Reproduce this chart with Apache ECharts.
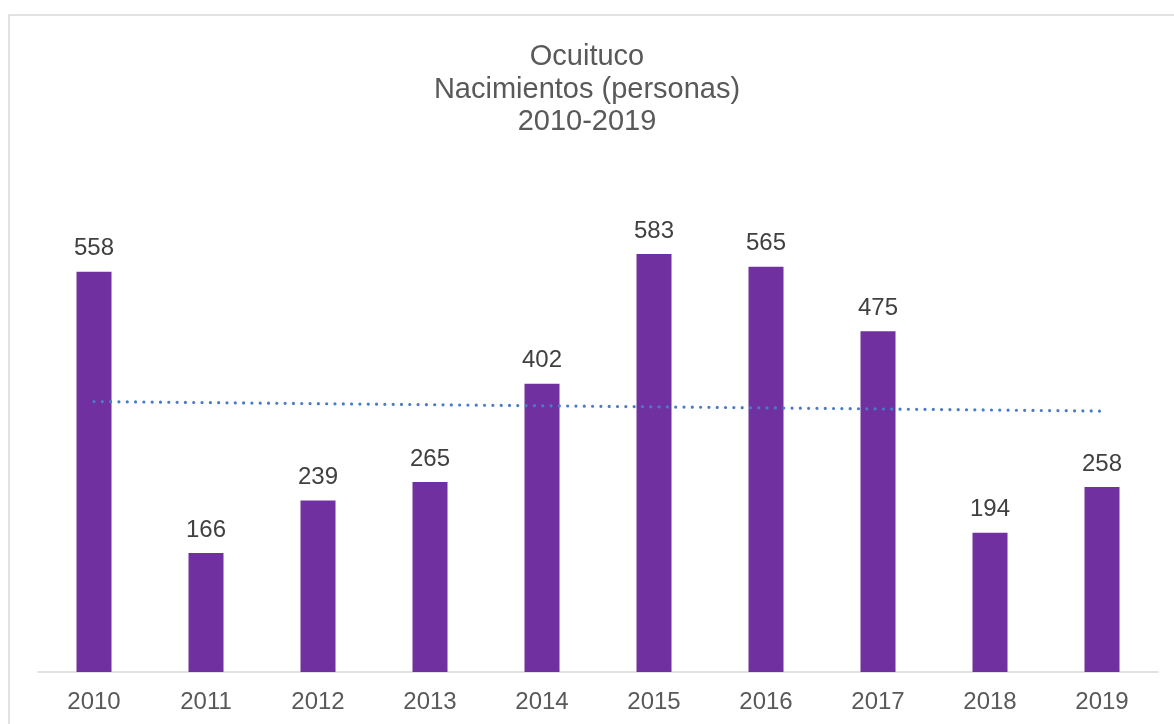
<!DOCTYPE html>
<html>
<head>
<meta charset="utf-8">
<script src="https://cdn.jsdelivr.net/npm/echarts@6/dist/echarts.min.js"></script>
<style>
html,body{margin:0;padding:0;background:#fff;}
#chart{width:1174px;height:724px;}
</style>
</head>
<body>
<div id="chart"></div>
<script>
const categories = ['2010','2011','2012','2013','2014','2015','2016','2017','2018','2019'];
const births = [558, 166, 239, 265, 402, 583, 565, 475, 194, 258];
const titleLines = ['Ocuituco', 'Nacimientos (personas)', '2010-2019'];

// Linear trend line (least squares) computed from the series values
const n = births.length;
const xMean = (n - 1) / 2;
const yMean = births.reduce((a, b) => a + b, 0) / n;
let sxy = 0, sxx = 0;
births.forEach((y, i) => { sxy += (i - xMean) * (y - yMean); sxx += (i - xMean) * (i - xMean); });
const slope = sxy / sxx;
const trend = births.map((_, i) => yMean + slope * (i - xMean));

const chart = echarts.init(document.getElementById('chart'), null, {renderer: 'canvas'});
const font = "'Liberation Sans', Arial, sans-serif";
chart.setOption({
  backgroundColor: '#ffffff',
  animation: false,
  graphic: [{
    type: 'rect',
    shape: {x: 9, y: 15, width: 1300, height: 900},
    style: {fill: 'none', stroke: '#D9D9D9', lineWidth: 1.5},
    silent: true, z: -10
  }],
  title: {
    text: titleLines.join('\n'),
    left: 'center',
    top: 36,
    textStyle: {fontFamily: font, fontSize: 29, lineHeight: 32.5, fontWeight: 'normal', color: '#595959'}
  },
  grid: {left: 38, right: 16, top: 170, bottom: 52, containLabel: false},
  xAxis: {
    type: 'category',
    data: categories,
    axisLine: {show: true, lineStyle: {color: '#D9D9D9', width: 1.5}},
    axisTick: {show: false},
    axisLabel: {fontFamily: font, fontSize: 24, color: '#595959', margin: 18}
  },
  yAxis: {
    type: 'value', min: 0, max: 700, show: false,
    splitLine: {show: false}
  },
  series: [{
    type: 'bar',
    data: births,
    barWidth: 35,
    itemStyle: {color: '#7030A0'},
    label: {show: true, position: 'top', distance: 11, fontFamily: font, fontSize: 24, color: '#404040'}
  }, {
    type: 'line',
    data: trend,
    symbol: 'none',
    z: 5,
    lineStyle: {color: '#4A7CC6', width: 3.2, type: [0.01, 8.3], cap: 'round'}
  }]
});
</script>
</body>
</html>
